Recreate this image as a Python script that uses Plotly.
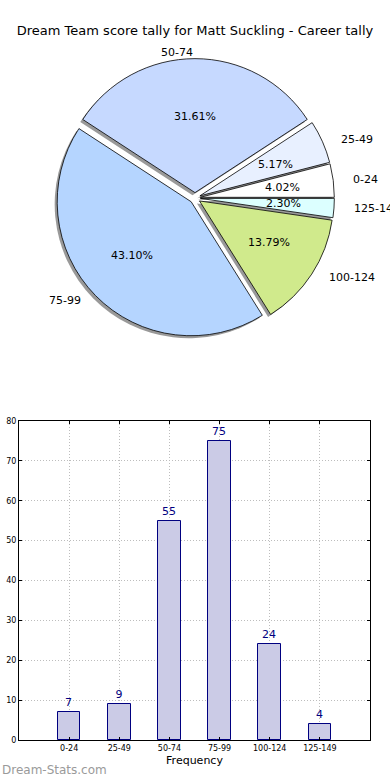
import math
import plotly.graph_objects as go

# ---------------- data ----------------
categories = ["0-24", "25-49", "50-74", "75-99", "100-124", "125-149"]
counts = [7, 9, 55, 75, 24, 4]
pie_colors = ["#ffffff", "#e8f0ff", "#c6d9ff", "#b5d5ff", "#d0ea8c", "#dcffff"]
y_ticks = [0, 10, 20, 30, 40, 50, 60, 70, 80]
title_text = "Dream Team score tally for Matt Suckling - Career tally"

W, H = 390, 780
FONT = "DejaVu Sans"

# ---------------- pie geometry ----------------
pull = 0.04
pie_cx, pie_cy = 195.0, 198.0      # pixel centre of pie
pie_r = 134.0                      # slice radius in px
txt_rx, txt_ry = 138.0, 128.0      # radii used for text placement (original pie was slightly elliptical)
box = pie_r * (2 + 2 * pull)       # domain box size plotly needs for this radius

def px_to_paper_x(px):
    return px / W

def px_to_paper_y(py):
    return 1 - py / H

dom_x = [px_to_paper_x(pie_cx - box / 2), px_to_paper_x(pie_cx + box / 2)]
dom_y = [px_to_paper_y(pie_cy + box / 2), px_to_paper_y(pie_cy - box / 2)]

# shadow (offset left/down)
sdx, sdy = -2.5, 2.5
sdom_x = [px_to_paper_x(pie_cx - box / 2 + sdx), px_to_paper_x(pie_cx + box / 2 + sdx)]
sdom_y = [px_to_paper_y(pie_cy + box / 2 + sdy), px_to_paper_y(pie_cy - box / 2 + sdy)]

total = sum(counts)
# plotly (counterclockwise) puts the first slice clockwise of `rotation`;
# shift so the first slice starts at 3 o'clock and runs counterclockwise.
rot = 90 - 360.0 * counts[0] / total

fig = go.Figure()

fig.add_trace(go.Pie(
    labels=categories, values=counts, sort=False, direction="counterclockwise",
    rotation=rot, pull=pull, textinfo="none", hoverinfo="skip", showlegend=False,
    marker=dict(colors=["rgba(70,70,70,0.55)"] * len(counts), line=dict(width=0)),
    domain=dict(x=sdom_x, y=sdom_y),
))
fig.add_trace(go.Pie(
    labels=categories, values=counts, sort=False, direction="counterclockwise",
    rotation=rot, pull=pull, textinfo="none", showlegend=False,
    marker=dict(colors=pie_colors, line=dict(color="#000000", width=0.8)),
    domain=dict(x=dom_x, y=dom_y),
))

# labels and percentages, placed like matplotlib (labeldistance 1.1, pctdistance 0.6)
annotations = []
cum = 0
for lab, v in zip(categories, counts):
    mid = 2 * math.pi * (cum + v / 2) / total
    cum += v
    c, s = math.cos(mid), math.sin(mid)
    ox, oy = pie_cx + pull * txt_rx * c, pie_cy - pull * txt_ry * s
    lx, ly = ox + 1.1 * txt_rx * c, oy - 1.1 * txt_ry * s
    annotations.append(dict(
        x=px_to_paper_x(lx), y=px_to_paper_y(ly), xref="paper", yref="paper",
        text=lab, showarrow=False, xanchor="left" if c > 1e-6 else "right",
        yanchor="middle", font=dict(family=FONT, size=11, color="#000000"),
    ))
    tx, ty = ox + 0.6 * txt_rx * c, oy - 0.6 * txt_ry * s
    annotations.append(dict(
        x=px_to_paper_x(tx), y=px_to_paper_y(ty), xref="paper", yref="paper",
        text="%.2f%%" % (100.0 * v / total), showarrow=False, xanchor="center",
        yanchor="middle", font=dict(family=FONT, size=11, color="#000000"),
    ))

# ---------------- bar chart ----------------
fig.add_trace(go.Bar(
    x=categories, y=counts, width=0.45, showlegend=False,
    marker=dict(color="#cbcbe6", line=dict(color="#000080", width=1)),
    text=[str(v) for v in counts], textposition="outside",
    textfont=dict(family=FONT, size=11, color="#000080"), cliponaxis=False,
    xaxis="x", yaxis="y",
))

annotations.append(dict(
    x=0.0, y=px_to_paper_y(770), xref="paper", yref="paper", text="Dream-Stats.com",
    showarrow=False, xanchor="left", yanchor="middle",
    font=dict(family=FONT, size=12, color="#9a9a9a"),
))

fig.update_layout(
    width=W, height=H, margin=dict(l=0, r=0, t=0, b=0, autoexpand=False),
    paper_bgcolor="#ffffff", plot_bgcolor="#ffffff",
    font=dict(family=FONT, color="#000000"),
    title=dict(text=title_text, x=0.5, xanchor="center", y=px_to_paper_y(30),
               yanchor="middle", font=dict(family=FONT, size=13, color="#000000")),
    annotations=annotations,
    bargap=0,
    xaxis=dict(
        domain=[19 / W, 370 / W], range=[-1, 6], type="category", automargin=False,
        showline=True, linecolor="#000000", linewidth=1, mirror="ticks",
        ticks="inside", ticklen=3, tickcolor="#000000",
        showgrid=True, gridcolor="#bdbdbd", griddash="1px,2px", gridwidth=1,
        tickfont=dict(family=FONT, size=8), zeroline=False,
        title=dict(text="Frequency", font=dict(family=FONT, size=11), standoff=4),
    ),
    yaxis=dict(
        domain=[1 - 740 / H, 1 - 421 / H], range=[0, 80], tickvals=y_ticks, automargin=False,
        showline=True, linecolor="#000000", linewidth=1, mirror="ticks",
        ticks="inside", ticklen=3, tickcolor="#000000",
        showgrid=True, gridcolor="#bdbdbd", griddash="1px,2px", gridwidth=1,
        tickfont=dict(family=FONT, size=8), zeroline=False,
    ),
)

fig.write_html("out.html", config={"displayModeBar": False},
               post_script="document.body.style.margin='0px';")
